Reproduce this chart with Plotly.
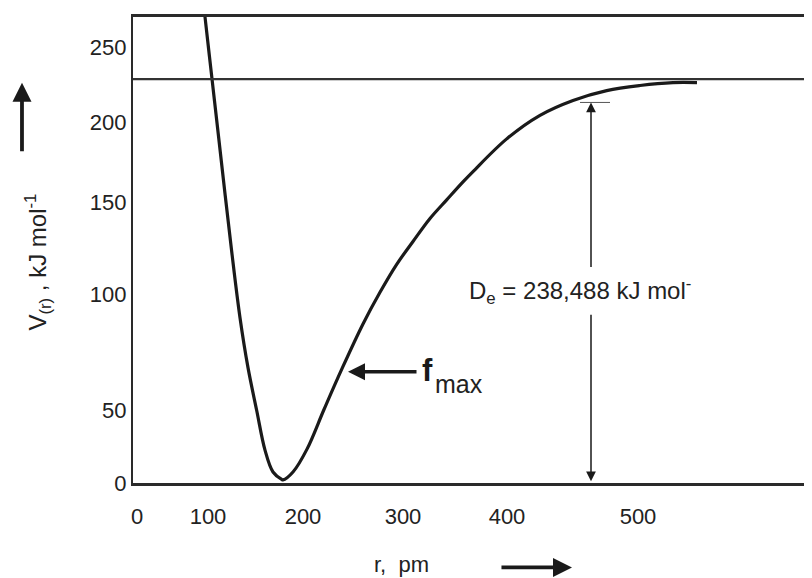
import plotly.graph_objects as go

# Curve (r in pm-like axis units, V in kJ/mol-like units)
r_values = [67, 68, 75.2, 81.4, 94.7, 103, 111, 119.7, 128, 136, 144.7, 146,
            156, 170, 187, 205, 226, 243, 259.7, 276, 293, 309.7, 326,
            336, 369.7, 403, 436, 469.7, 503, 536, 560]
v_values = [281.0, 275.2, 237.6, 205.3, 136.7, 97.6, 68.1, 42.8, 19.4, 6.5, 2.1, 1.8,
            6.5, 20.0, 43.4, 67.5, 93.9, 112.6, 129.1, 142.6, 156.2, 167.2, 177.8,
            183.9, 203.2, 217.1, 225.9, 231.7, 234.7, 236.4, 236.4]

De = 238.488
De_arrow_r = 454
De_arrow_top = 224.7
fmax_r = 211
fmax_v = 65.7

x_tick_text = ["0", "100", "200", "300", "400", "500"]
x_tick_vals = [0, 71, 166, 266, 370, 501]
y_tick_text = ["0", "50", "100", "150", "200", "250"]
y_tick_vals = [0, 42.8, 111.5, 166.0, 213.0, 257.0]

FONT = "Liberation Sans, Arial, sans-serif"
INK = "#1a1a1a"

fig = go.Figure()
fig.add_trace(go.Scatter(
    x=r_values, y=v_values, mode="lines",
    line=dict(color=INK, width=3.2, shape="spline", smoothing=1.0),
    showlegend=False, hoverinfo="skip"))

fig.update_layout(
    width=812, height=578,
    margin=dict(l=125, r=8, t=6, b=103),
    paper_bgcolor="white", plot_bgcolor="white",
    font=dict(family=FONT, color="#222", size=22),
    xaxis=dict(range=[-4, 675], showgrid=False, zeroline=False,
               showline=True, mirror=True, linecolor="#2a2a2a", linewidth=2.6,
               ticks="", tickvals=x_tick_vals, ticktext=x_tick_text,
               tickfont=dict(size=22, family=FONT, color="#222"),
               ticklabelstandoff=12),
    yaxis=dict(range=[0, 275.15], showgrid=False, zeroline=False,
               showline=True, mirror=False, linecolor="#2a2a2a", linewidth=2.2,
               ticks="", tickvals=y_tick_vals, ticktext=y_tick_text,
               tickfont=dict(size=22, family=FONT, color="#222"),
               ticklabelstandoff=0),
)

# D_e horizontal level line
fig.add_shape(type="line", xref="paper", yref="y", x0=0, x1=1, y0=De, y1=De,
              line=dict(color="#333", width=2.2))
# small tick at top of the D_e arrow
fig.add_shape(type="line", xref="x", yref="y", x0=De_arrow_r - 11, x1=De_arrow_r + 19,
              y0=De_arrow_top, y1=De_arrow_top, line=dict(color="#555", width=1))

# D_e double arrow (split around the text)
fig.add_annotation(x=De_arrow_r, y=De_arrow_top, ax=De_arrow_r, ay=126.7,
                   xref="x", yref="y", axref="x", ayref="y", text="",
                   showarrow=True, arrowhead=2, arrowsize=1.3, arrowwidth=1.5,
                   arrowcolor=INK)
fig.add_annotation(x=De_arrow_r, y=1.0, ax=De_arrow_r, ay=100.3,
                   xref="x", yref="y", axref="x", ayref="y", text="",
                   showarrow=True, arrowhead=2, arrowsize=1.3, arrowwidth=1.5,
                   arrowcolor=INK)
fig.add_annotation(x=443, y=113.2, xref="x", yref="y", showarrow=False,
                   xanchor="center",
                   text="D<sub>e</sub> = 238,488 kJ mol<sup>-</sup>",
                   font=dict(size=24, family=FONT, color="#222"))

# f_max arrow and label
fig.add_annotation(x=fmax_r, y=fmax_v, ax=fmax_r + 70, ay=fmax_v,
                   xref="x", yref="y", axref="x", ayref="y", text="",
                   showarrow=True, arrowhead=2, arrowsize=1.0, arrowwidth=3.4,
                   arrowcolor=INK)
fig.add_annotation(x=fmax_r + 72, y=fmax_v + 1, xref="x", yref="y", showarrow=False,
                   xanchor="left", yanchor="middle", text="<b>f</b>",
                   font=dict(size=31, family=FONT, color=INK))
fig.add_annotation(x=fmax_r + 85, y=fmax_v - 7, xref="x", yref="y", showarrow=False,
                   xanchor="left", yanchor="middle", text="max",
                   font=dict(size=25, family=FONT, color="#222"))

# y-axis title and arrow
fig.add_annotation(x=-0.14, y=0.475, xref="paper", yref="paper", showarrow=False,
                   xanchor="center", yanchor="middle",
                   textangle=-90, text="V<sub>(r)</sub> , kJ mol<sup>-1</sup>",
                   font=dict(size=24, family=FONT, color="#222"))
fig.add_annotation(x=-0.1635, y=0.859, xref="paper", yref="paper", ax=0, ay=70,
                   text="", showarrow=True, arrowhead=2, arrowsize=1.0,
                   arrowwidth=3.8, arrowcolor=INK)

# x-axis title and arrow
fig.add_annotation(x=0.396, y=-0.175, xref="paper", yref="paper", showarrow=False,
                   xanchor="center", yanchor="middle",
                   text="r,\u00a0\u00a0pm", font=dict(size=22, family=FONT, color="#222"))
fig.add_annotation(x=0.6465, y=-0.1812, xref="paper", yref="paper", ax=-72, ay=0,
                   text="", showarrow=True, arrowhead=2, arrowsize=1.0,
                   arrowwidth=3.8, arrowcolor=INK)

fig.write_html("out.html")
